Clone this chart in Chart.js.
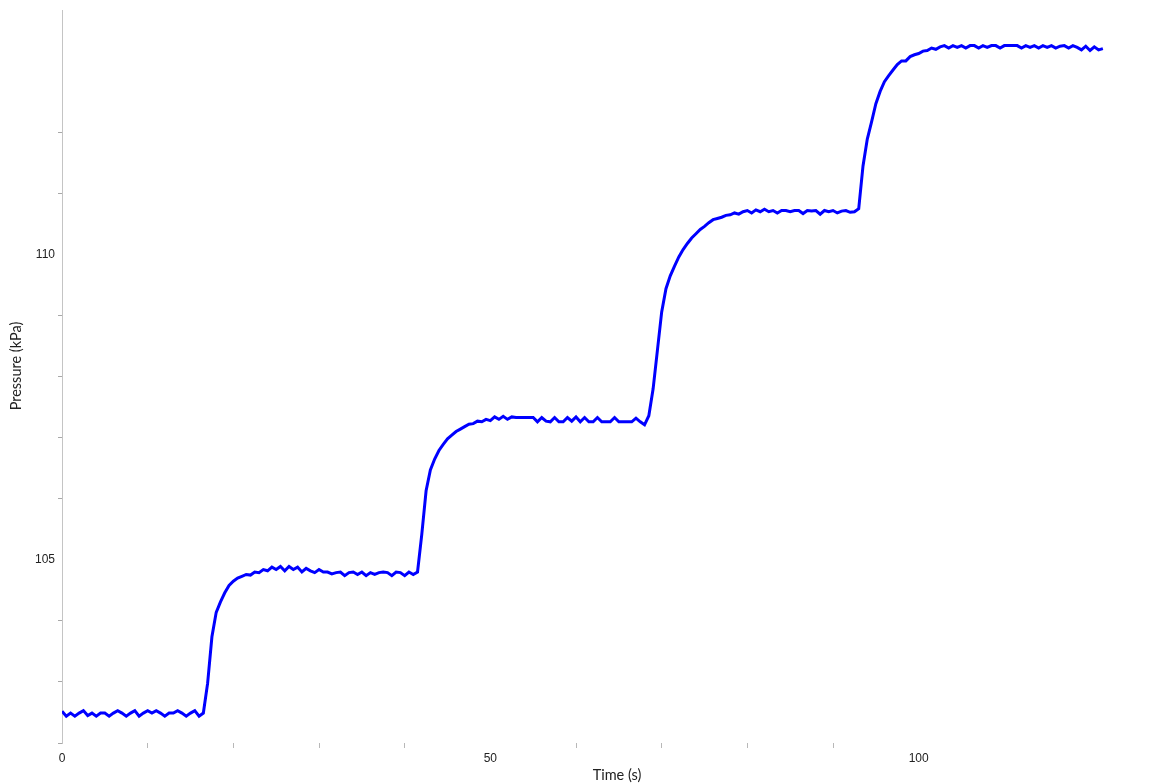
<!DOCTYPE html>
<html>
<head>
<meta charset="utf-8">
<title>Pressure vs Time</title>
<script src="https://cdn.jsdelivr.net/npm/chart.js@4.4.1/dist/chart.umd.min.js"></script>
<style>
  body { margin: 0; background: #fff; }
  #grafico { display: block; }
</style>
</head>
<body>
<canvas id="grafico" width="1172" height="784"></canvas>
<script>
// Tempo das amostras (s)
const timeSeconds = [
  0, 0.5, 1, 1.5, 2, 2.5, 3, 3.5, 4, 4.5,
  5, 5.5, 6, 6.5, 7, 7.5, 8, 8.5, 9, 9.5,
  10, 10.5, 11, 11.5, 12, 12.5, 13, 13.5, 14, 14.5,
  15, 15.5, 16, 16.5, 17, 17.5, 18, 18.5, 19, 19.5,
  20, 20.5, 21, 21.5, 22, 22.5, 23, 23.5, 24, 24.5,
  25, 25.5, 26, 26.5, 27, 27.5, 28, 28.5, 29, 29.5,
  30, 30.5, 31, 31.5, 32, 32.5, 33, 33.5, 34, 34.5,
  35, 35.5, 36, 36.5, 37, 37.5, 38, 38.5, 39, 39.5,
  40, 40.5, 41, 41.5, 42, 42.5, 43, 43.5, 44, 44.5,
  45, 45.5, 46, 46.5, 47, 47.5, 48, 48.5, 49, 49.5,
  50, 50.5, 51, 51.5, 52, 52.5, 53, 53.5, 54, 54.5,
  55, 55.5, 56, 56.5, 57, 57.5, 58, 58.5, 59, 59.5,
  60, 60.5, 61, 61.5, 62, 62.5, 63, 63.5, 64, 64.5,
  65, 65.5, 66, 66.5, 67, 67.5, 68, 68.5, 69, 69.5,
  70, 70.5, 71, 71.5, 72, 72.5, 73, 73.5, 74, 74.5,
  75, 75.5, 76, 76.5, 77, 77.5, 78, 78.5, 79, 79.5,
  80, 80.5, 81, 81.5, 82, 82.5, 83, 83.5, 84, 84.5,
  85, 85.5, 86, 86.5, 87, 87.5, 88, 88.5, 89, 89.5,
  90, 90.5, 91, 91.5, 92, 92.5, 93, 93.5, 94, 94.5,
  95, 95.5, 96, 96.5, 97, 97.5, 98, 98.5, 99, 99.5,
  100, 100.5, 101, 101.5, 102, 102.5, 103, 103.5, 104, 104.5,
  105, 105.5, 106, 106.5, 107, 107.5, 108, 108.5, 109, 109.5,
  110, 110.5, 111, 111.5, 112, 112.5, 113, 113.5, 114, 114.5,
  115, 115.5, 116, 116.5, 117, 117.5, 118, 118.5, 119, 119.5,
  120, 120.5, 121, 121.5,
];

// Pressão medida (kPa)
const pressureKPa = [
  102.52, 102.44, 102.49, 102.44, 102.49, 102.53, 102.45, 102.49, 102.44, 102.49,
  102.49, 102.44, 102.49, 102.53, 102.49, 102.44, 102.49, 102.53, 102.44, 102.49,
  102.53, 102.49, 102.53, 102.49, 102.44, 102.49, 102.49, 102.53, 102.49, 102.44,
  102.49, 102.53, 102.44, 102.49, 102.98, 103.74, 104.14, 104.31, 104.46, 104.58,
  104.65, 104.70, 104.73, 104.76, 104.75, 104.80, 104.79, 104.84, 104.82, 104.88,
  104.84, 104.89, 104.82, 104.89, 104.84, 104.88, 104.80, 104.86, 104.82, 104.79,
  104.84, 104.80, 104.80, 104.77, 104.79, 104.80, 104.74, 104.79, 104.80, 104.76,
  104.80, 104.74, 104.79, 104.76, 104.79, 104.80, 104.79, 104.74, 104.80, 104.79,
  104.74, 104.80, 104.76, 104.80, 105.42, 106.13, 106.47, 106.65, 106.79, 106.89,
  106.98, 107.04, 107.10, 107.14, 107.18, 107.22, 107.23, 107.27, 107.26, 107.30,
  107.28, 107.34, 107.30, 107.35, 107.30, 107.34, 107.33, 107.33, 107.33, 107.33,
  107.33, 107.26, 107.33, 107.27, 107.26, 107.33, 107.26, 107.26, 107.33, 107.27,
  107.34, 107.26, 107.33, 107.26, 107.26, 107.33, 107.26, 107.26, 107.26, 107.33,
  107.26, 107.26, 107.26, 107.26, 107.32, 107.26, 107.21, 107.36, 107.80, 108.43,
  109.06, 109.44, 109.65, 109.81, 109.96, 110.08, 110.18, 110.27, 110.34, 110.41,
  110.46, 110.52, 110.57, 110.59, 110.61, 110.64, 110.65, 110.68, 110.66, 110.70,
  110.72, 110.68, 110.73, 110.70, 110.74, 110.70, 110.72, 110.68, 110.72, 110.72,
  110.70, 110.72, 110.72, 110.67, 110.72, 110.71, 110.72, 110.66, 110.72, 110.70,
  110.72, 110.68, 110.71, 110.72, 110.69, 110.70, 110.75, 111.45, 111.89, 112.17,
  112.47, 112.67, 112.83, 112.93, 113.02, 113.11, 113.17, 113.17, 113.24, 113.27,
  113.29, 113.33, 113.34, 113.38, 113.36, 113.40, 113.42, 113.38, 113.42, 113.39,
  113.42, 113.38, 113.42, 113.42, 113.38, 113.42, 113.39, 113.42, 113.42, 113.38,
  113.42, 113.42, 113.42, 113.42, 113.38, 113.42, 113.39, 113.42, 113.38, 113.42,
  113.39, 113.42, 113.38, 113.41, 113.42, 113.38, 113.42, 113.39, 113.35, 113.41,
  113.34, 113.40, 113.35, 113.37,
];

// Marcas dos eixos
const xTicks = [0, 10, 20, 30, 40, 50, 60, 70, 80, 90, 100];
const xTickLabels = [0, 50, 100];
const yTicks = [102, 103, 104, 105, 106, 107, 108, 109, 110, 111, 112];
const yTickLabels = [105, 110];

const tituloX = "Time (s)";
const tituloY = "Pressure (kPa)";

const pontos = timeSeconds.map((t, i) => ({ x: t, y: pressureKPa[i] }));

// Títulos dos eixos desenhados à mão (posição igual à da referência)
const titulosEixos = {
  id: "titulosEixos",
  afterDraw(chart) {
    const ctx = chart.ctx;
    ctx.save();
    ctx.fillStyle = "#222";
    ctx.font = "14.5px Lato";
    ctx.textAlign = "center";
    ctx.textBaseline = "middle";
    ctx.fillText(tituloX, 617, 775);
    ctx.translate(16, 366);
    ctx.rotate(-Math.PI / 2);
    ctx.fillText(tituloY, 0, 0);
    ctx.restore();
  },
};

const grafico = document.getElementById("grafico");

new Chart(grafico, {
  type: "line",
  data: {
    datasets: [
      {
        label: tituloY,
        data: pontos,
        borderColor: "#0000ff",
        borderWidth: 3,
        pointRadius: 0,
        tension: 0,
        fill: false,
      },
    ],
  },
  options: {
    responsive: false,
    animation: false,
    layout: {
      padding: { top: 6, right: 22, left: 0, bottom: 0 },
    },
    plugins: {
      legend: { display: false },
      tooltip: { enabled: false },
    },
    scales: {
      x: {
        type: "linear",
        min: 0,
        max: 127,
        afterBuildTicks: (scale) => {
          scale.ticks = xTicks.map((v) => ({ value: v }));
        },
        afterFit: (scale) => {
          scale.height = 41;
        },
        border: { display: false },
        grid: {
          drawOnChartArea: false,
          drawTicks: true,
          tickLength: 5,
          color: (ctx) =>
            ctx.tick && xTickLabels.includes(ctx.tick.value)
              ? "rgba(0,0,0,0)"
              : "#b8b8b8",
        },
        ticks: {
          autoSkip: false,
          maxRotation: 0,
          padding: 3,
          color: "#222",
          font: { family: "Liberation Sans", size: 12 },
          callback: (value) => (xTickLabels.includes(value) ? String(value) : ""),
        },
      },
      y: {
        type: "linear",
        min: 102,
        max: 114,
        afterBuildTicks: (scale) => {
          scale.ticks = yTicks.map((v) => ({ value: v }));
        },
        afterFit: (scale) => {
          scale.width = 62;
        },
        border: { display: true, color: "#c4c4c4", width: 1 },
        grid: {
          drawOnChartArea: false,
          drawTicks: true,
          tickLength: 4,
          color: (ctx) =>
            ctx.tick && yTickLabels.includes(ctx.tick.value)
              ? "rgba(0,0,0,0)"
              : "#a8a8a8",
        },
        ticks: {
          autoSkip: false,
          padding: 3,
          color: "#222",
          font: { family: "Liberation Sans", size: 12 },
          callback: (value) => (yTickLabels.includes(value) ? String(value) : ""),
        },
      },
    },
  },
  plugins: [titulosEixos],
});
</script>
</body>
</html>
